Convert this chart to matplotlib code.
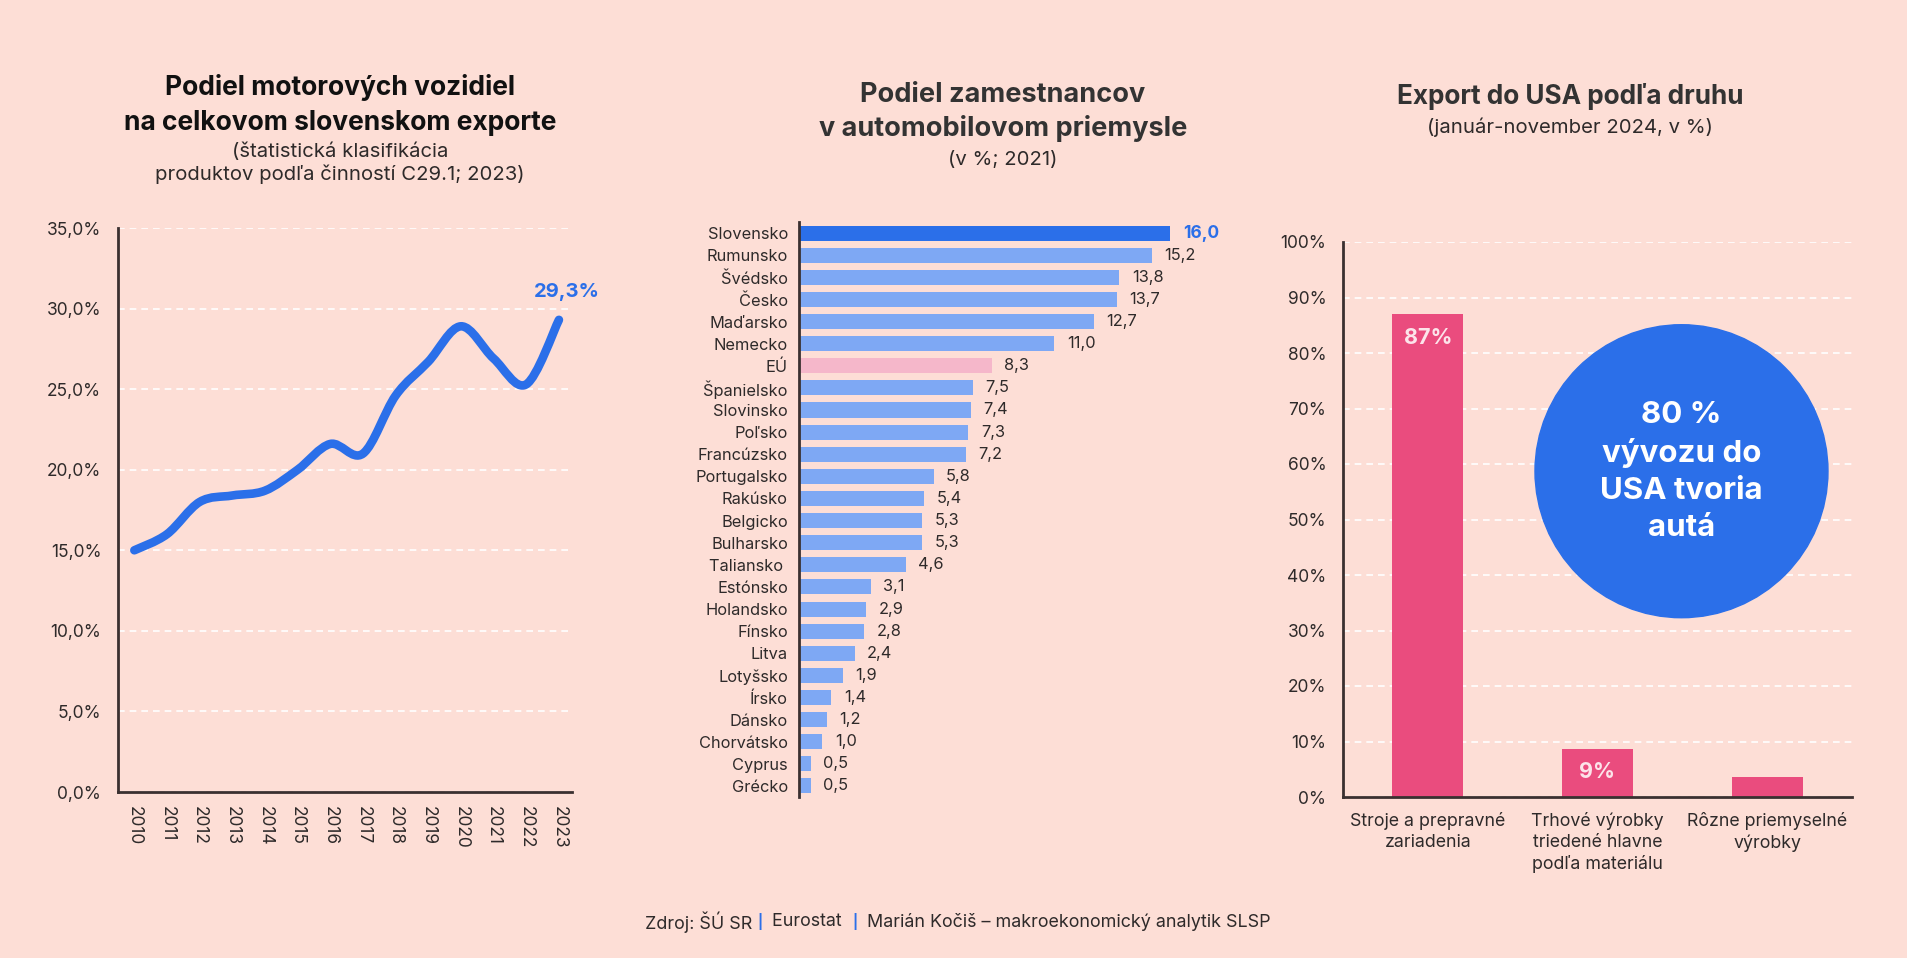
import matplotlib
matplotlib.use("Agg")
import matplotlib.pyplot as plt
from matplotlib.path import Path
from matplotlib.patches import PathPatch, Ellipse
import numpy as np

plt.rcParams['font.family'] = ['Inter', 'DejaVu Sans']

BG = '#FDDED6'
BLUE = '#2B6FE9'
LIGHT_BLUE = '#7EA8F4'
EU_PINK = '#F5B7CA'
RED = '#EA4C7E'
DARK = '#3A3030'
TXT = '#2E2A2A'

# --- data ---
years = list(range(2010, 2024))
share = [15.0, 16.0, 18.0, 18.4, 18.7, 20.0, 21.6, 21.0, 24.6, 26.7, 28.9, 26.9, 25.3, 29.3]

countries = ['Slovensko', 'Rumunsko', 'Švédsko', 'Česko', 'Maďarsko', 'Nemecko', 'EÚ',
             'Španielsko', 'Slovinsko', 'Poľsko', 'Francúzsko', 'Portugalsko', 'Rakúsko',
             'Belgicko', 'Bulharsko', 'Taliansko ', 'Estónsko', 'Holandsko', 'Fínsko', 'Litva',
             'Lotyšsko', 'Írsko', 'Dánsko', 'Chorvátsko', 'Cyprus', 'Grécko']
employees = [16.0, 15.2, 13.8, 13.7, 12.7, 11.0, 8.3, 7.5, 7.4, 7.3, 7.2, 5.8, 5.4,
             5.3, 5.3, 4.6, 3.1, 2.9, 2.8, 2.4, 1.9, 1.4, 1.2, 1.0, 0.5, 0.5]

export_cats = ['Stroje a prepravné\nzariadenia',
               'Trhové výrobky\ntriedené hlavne\npodľa materiálu',
               'Rôzne priemyselné\nvýrobky']
export_share = [87, 8.7, 3.6]
export_labels = ['87%', '9%', '']

W, H = 1908, 958
fig = plt.figure(figsize=(W / 100, H / 100), dpi=100, facecolor=BG)

SUB_FS = 14.6


def box(left, top, right, bottom):
    # pixel box -> figure fractions
    return [left / W, 1 - bottom / H, (right - left) / W, (bottom - top) / H]


def fig_text(x, y, s, **kw):
    fig.text(x / W, 1 - y / H, s, ha='center', va='center', **kw)


def smooth_path(xs, ys):
    pts = np.column_stack([xs, ys]).astype(float)
    verts = [pts[0]]
    codes = [Path.MOVETO]
    n = len(pts)
    for i in range(n - 1):
        p0 = pts[max(i - 1, 0)]
        p1 = pts[i]
        p2 = pts[i + 1]
        p3 = pts[min(i + 2, n - 1)]
        verts += [p1 + (p2 - p0) / 6, p2 - (p3 - p1) / 6, p2]
        codes += [Path.CURVE4] * 3
    return Path(verts, codes)


def style_axes(ax):
    ax.set_facecolor('none')
    for s in ['top', 'right']:
        ax.spines[s].set_visible(False)
    ax.spines['left'].set_color(DARK)
    ax.spines['left'].set_linewidth(2)
    ax.spines['bottom'].set_color(DARK)
    ax.spines['bottom'].set_linewidth(2)
    ax.tick_params(length=0, colors=TXT)


# --- chart 1: line ---
ax1 = fig.add_axes(box(118, 228, 572, 792))
style_axes(ax1)
ax1.set_xlim(2009.5, 2023.4)
ax1.set_ylim(0, 35)
ax1.set_yticks(np.arange(0, 36, 5))
ax1.set_yticklabels([f'{v:.1f}%'.replace('.', ',') for v in np.arange(0, 36, 5)], fontsize=12.5)
ax1.set_xticks(years)
ax1.set_xticklabels([str(y) for y in years], rotation=-90, fontsize=12.5, va='top')
ax1.tick_params(axis='y', pad=12)
ax1.tick_params(axis='x', pad=10)
ax1.grid(axis='y', color='white', linestyle=(0, (4, 3)), linewidth=1.2)
ax1.set_axisbelow(True)
ax1.add_patch(PathPatch(smooth_path(years, share), facecolor='none', edgecolor=BLUE,
                        lw=6.2, capstyle='round', joinstyle='round'))
ax1.annotate(f'{share[-1]:.1f}%'.replace('.', ','), (years[-1], share[-1]),
             xytext=(6, 20), textcoords='offset points', ha='center', va='center',
             color=BLUE, fontsize=14.5, fontweight='bold')

fig_text(340, 105, 'Podiel motorových vozidiel\nna celkovom slovenskom exporte',
         fontsize=19, fontweight='bold', color='#111111', linespacing=1.41)
fig_text(340, 163, '(štatistická klasifikácia\nproduktov podľa činností C29.1; 2023)',
         fontsize=SUB_FS, color=TXT, linespacing=1.24)

# --- chart 2: horizontal bars ---
ax2 = fig.add_axes(box(799, 222, 1240, 797))
style_axes(ax2)
ax2.spines['bottom'].set_visible(False)
ypos = np.arange(len(countries))
colors = [BLUE] + [LIGHT_BLUE] * (len(countries) - 1)
colors[countries.index('EÚ')] = EU_PINK
ax2.barh(ypos, employees, height=0.68, color=colors)
ax2.set_xlim(0, 19)
ax2.set_ylim(len(countries) - 0.5, -0.5)
ax2.set_xticks([])
ax2.set_yticks(ypos)
ax2.set_yticklabels(countries, fontsize=11.8)
ax2.tick_params(axis='y', pad=8)
for i, v in enumerate(employees):
    first = i == 0
    ax2.annotate(f'{v:.1f}'.replace('.', ','), (v, i), xytext=(9, 0), textcoords='offset points',
                 ha='left', va='center', fontsize=12.5 if first else 11.8,
                 color=BLUE if first else TXT, fontweight='bold' if first else 'normal')

fig_text(1003, 112, 'Podiel zamestnancov\nv automobilovom priemysle',
         fontsize=19.5, fontweight='bold', color='#333333', linespacing=1.38)
fig_text(1003, 160, '(v %; 2021)', fontsize=SUB_FS, color=TXT)

# --- chart 3: vertical bars ---
ax3 = fig.add_axes(box(1343, 242, 1852, 797))
style_axes(ax3)
xpos = np.arange(len(export_cats))
ax3.bar(xpos, export_share, width=0.42, color=RED, zorder=2)
ax3.set_xlim(-0.5, 2.5)
ax3.set_ylim(0, 100)
ax3.set_yticks(np.arange(0, 101, 10))
ax3.set_yticklabels([f'{v}%' for v in range(0, 101, 10)], fontsize=12.5)
ax3.set_xticks(xpos)
ax3.set_xticklabels(export_cats, fontsize=12.8, linespacing=1.3)
ax3.tick_params(axis='y', pad=12)
ax3.tick_params(axis='x', pad=11)
ax3.grid(axis='y', color='white', linestyle=(0, (4, 3)), linewidth=1.2, zorder=0)
ax3.set_axisbelow(True)
for x, v, lab in zip(xpos, export_share, export_labels):
    if lab:
        ax3.annotate(lab, (x, v), xytext=(0, -17), textcoords='offset points',
                     ha='center', va='center', color='#FCE4EA', fontsize=15.5, fontweight='bold')

ax3.add_patch(Ellipse((0.665, 0.587), 293 / 509, 293 / 555, transform=ax3.transAxes,
                      color=BLUE, zorder=3))
ax3.text(0.665, 0.587, '80 %\nvývozu do\nUSA tvoria\nautá', transform=ax3.transAxes,
         ha='center', va='center', color='white', fontsize=22.5, fontweight='bold',
         linespacing=1.4, zorder=4)

fig_text(1570, 97, 'Export do USA podľa druhu', fontsize=18.8, fontweight='bold', color='#333333')
fig_text(1570, 127, '(január-november 2024, v %)', fontsize=SUB_FS, color=TXT)

# --- footer ---
FOOT_FS = 12.9
t = fig.text(645 / W, 1 - 922 / H, 'Zdroj: ŠÚ SR ', ha='left', va='center', fontsize=FOOT_FS, color=TXT)
for piece, col, fs, w in [('|', BLUE, 10, 'bold'), ('  Eurostat  ', TXT, FOOT_FS, 'normal'),
                          ('|', BLUE, 10, 'bold'),
                          ('  Marián Kočiš – makroekonomický analytik SLSP', TXT, FOOT_FS, 'normal')]:
    t = fig.add_artist(plt.Annotation(piece, xy=(1, 0.5), xycoords=t, ha='left', va='center',
                                      fontsize=fs, color=col, fontweight=w))

fig.savefig('out.png', dpi=100, facecolor=BG)
